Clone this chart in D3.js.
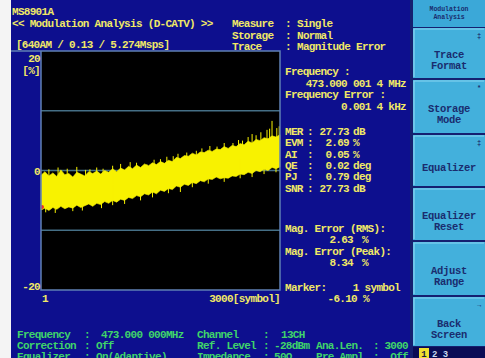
<!DOCTYPE html>
<html><head><meta charset="utf-8">
<script src="https://cdn.jsdelivr.net/npm/d3@7"></script>
<style>
body{margin:0;background:#fff;}
svg text{font-family:"Liberation Mono","DejaVu Sans Mono",monospace;font-weight:bold;}
</style></head><body>
<script>
// magnitude error trace (band edges every 50 symbols, %)
const symbols = [1,50,100,150,200,250,300,350,400,450,500,550,600,650,700,750,800,850,900,950,
  1000,1050,1100,1150,1200,1250,1300,1350,1400,1450,1500,1550,1600,1650,1700,1750,1800,1850,1900,1950,
  2000,2050,2100,2150,2200,2250,2300,2350,2400,2450,2500,2550,2600,2650,2700,2750,2800,2850,2900,2950,3000];
const upper = [-0.8,-0.2,-0.9,-0.4,-1.0,0.1,-0.7,-0.5,-1.1,-0.3,-0.6,-0.9,-0.2,-0.5,-0.1,-0.6,0.0,-0.3,0.3,-0.2,
  0.4,0.1,0.7,0.3,0.9,0.5,1.1,0.8,1.3,1.0,1.5,1.2,1.7,1.5,2.2,2.0,2.5,2.4,2.9,2.6,
  3.1,3.0,3.4,3.2,3.6,3.5,4.0,3.7,4.2,4.0,4.5,4.3,4.9,4.6,5.2,5.0,5.5,5.3,5.8,5.6,6.0];
const lower = [-6.6,-6.3,-6.7,-6.2,-6.5,-6.0,-6.4,-6.1,-6.3,-5.8,-6.2,-5.9,-5.6,-6.0,-5.5,-5.7,-5.2,-5.5,-5.0,-5.3,
  -4.8,-5.0,-4.5,-4.7,-4.2,-4.4,-3.9,-4.1,-3.6,-3.9,-3.3,-3.5,-3.0,-3.2,-2.6,-2.8,-2.3,-2.5,-2.0,-2.2,
  -1.7,-1.9,-1.4,-1.5,-1.1,-1.4,-1.2,-1.3,-0.9,-1.0,-0.6,-0.7,-0.3,-0.5,0.0,-0.2,0.2,0.0,0.5,0.3,0.6];
const spikesUp = [[100,0.2],[215,0.5],[330,0.3],[450,0.6],[560,0.1],[615,0.2],[700,0.5],[780,0.3],[900,0.8],
  [1000,1.1],[1120,1.4],[1200,1.3],[1330,1.0],[1420,1.8],[1500,1.9],[1580,2.3],[1660,2.4],[1720,2.8],[1830,3.0],
  [1950,3.3],[2020,3.7],[2120,4.1],[2210,4.0],[2300,4.6],[2410,4.6],[2480,5.1],[2530,5.0],[2600,5.6],[2650,6.1],
  [2700,5.9],[2760,6.4],[2837,6.8],[2870,7.0],[2900,8.3],[2960,7.1],[2990,7.4]];
const spikesDown = [[60,-7.0],[180,-7.1],[400,-6.8],[520,-6.7],[760,-6.3],[900,-5.8],[1050,-5.6],[1250,-5.0],
  [1400,-4.5],[1600,-3.8],[1750,-3.6],[1900,-2.8],[2100,-2.2],[2300,-1.9],[2500,-1.3],[2650,-1.1],[2800,-0.6],[2950,-0.3]];
const marker = [1, -6.10];
const yLabels = [["20",20],["0",0],["-20",-20]];
const gridVals = [10, 0, -10];

const headerLines = ["MS8901A", "<< Modulation Analysis (D-CATV) >>", " [640AM / 0.13 / 5.274Msps]"];
const settings = [["Measure","Single"],["Storage","Normal"],["Trace","Magnitude Error"]];
const freqInfo = ["Frequency :", "473.000 001 4 MHz", "Frequency Error :", "0.001 4 kHz"];
const results = [["MER","27.73","dB"],["EVM","2.69","%"],["AI","0.05","%"],["QE","0.02","deg"],["PJ","0.79","deg"],["SNR","27.73","dB"]];
const magErr = [["Mag. Error (RMS):","2.63"],["Mag. Error (Peak):","8.34"]];
const markerInfo = ["Marker:", "1 symbol", "-6.10"];
const statusRows = [
  ["Frequency",":","473.000 000MHz","Channel",":","13CH"],
  ["Correction",":","Off","Ref. Level",":","-28dBm","Ana.Len.",":","3000"],
  ["Equalizer",":","On(Adaptive)","Impedance",":","50\u03a9","Pre Ampl",":","Off"]];
const softKeys = [["Trace","Format"],["Storage","Mode"],["Equalizer"],["Equalizer","Reset"],["Adjust","Range"],["Back","Screen"]];
const keyMarks = ["\u2021","*","\u2021","","","\u2192"];

const W = 485, H = 358;
const bg = "#0d0f8e", yel = "#f0e866", grn = "#3fd46a", trc = "#f8f200";
const svg = d3.select("body").append("svg").attr("width", W).attr("height", H);
svg.append("rect").attr("width", W).attr("height", H).attr("fill", bg);
svg.append("rect").attr("width", 11).attr("height", H).attr("fill", "#f4f4f4");

const x = d3.scaleLinear().domain([1, 3000]).range([41, 280]);
const y = d3.scaleLinear().domain([-20, 20]).range([290, 51]);

// plot
svg.append("rect").attr("x", 41).attr("y", 51).attr("width", 239).attr("height", 239).attr("fill", "#000");
svg.selectAll(".grid").data(gridVals).join("line")
  .attr("x1", 41).attr("x2", 280).attr("y1", d => y(d)).attr("y2", d => y(d))
  .attr("stroke", "#456f86").attr("stroke-width", 1.3);

const idx = d3.range(symbols.length);
svg.append("path").datum(idx)
  .attr("d", d3.area().x(i => x(symbols[i])).y0(i => y(lower[i])).y1(i => y(upper[i])))
  .attr("fill", trc).attr("stroke", trc).attr("stroke-width", 0.6);

const near = s => d3.bisectCenter(symbols, s);
svg.selectAll(".sp").data(spikesUp.concat(spikesDown)).join("line")
  .attr("x1", d => x(d[0])).attr("x2", d => x(d[0]))
  .attr("y1", d => y(d[1]))
  .attr("y2", d => { const i = near(d[0]); return y((upper[i] + lower[i]) / 2); })
  .attr("stroke", trc).attr("stroke-width", 1);

svg.append("circle").attr("cx", x(marker[0]) + 1).attr("cy", y(marker[1])).attr("r", 2).attr("fill", "#e8302a");

// frame
svg.append("path").attr("d", "M11,51H280V290H41V51")
  .attr("fill", "none").attr("stroke", "#5f80b4").attr("stroke-width", 1.5);

const txt = (t, px, py, col, anchor) => svg.append("text").attr("x", px).attr("y", py)
  .attr("fill", col || yel).attr("font-size", 11).attr("letter-spacing", -0.7)
  .attr("text-anchor", anchor || "start")
  .attr("xml:space", "preserve").text(t);

const dyLab = {"20": 11, "0": 4, "-20": 0};
yLabels.forEach(d => txt(d[0], 40, y(d[1]) + dyLab[d[0]], yel, "end"));
txt("[%]", 40, 74, yel, "end");
txt("1", 42, 302);
txt("3000[symbol]", 280, 302, yel, "end");

// header
txt(headerLines[0], 12, 15);
txt(headerLines[1], 12, 27);
txt(headerLines[2], 10, 48);
settings.forEach((d, i) => {
  const py = 27 + i * 11.5;
  txt(d[0], 232, py); txt(":", 285, py); txt(d[1], 297, py);
});

// right info
txt(freqInfo[0], 285, 75); txt(freqInfo[1], 406, 87, yel, "end");
txt(freqInfo[2], 285, 98); txt(freqInfo[3], 406, 110, yel, "end");
results.forEach((d, i) => {
  const py = 135 + i * 11.3;
  txt(d[0], 285, py); txt(":", 307, py); txt(d[1], 349, py, yel, "end"); txt(d[2], 353, py);
});
magErr.forEach((d, i) => {
  const py = 232 + i * 22.5;
  txt(d[0], 285, py); txt(d[1], 353, py + 11, yel, "end"); txt("%", 362, py + 11);
});
txt(markerInfo[0], 285, 291); txt(markerInfo[1], 400, 291, yel, "end");
txt(markerInfo[2], 357, 302, yel, "end"); txt("%", 363, 302);

// status rows (last one is cut by the screen edge, as on the instrument photo)
const colX = [17, 84, 96, 197, 263, 274, 316, 373, 408];
statusRows.forEach((r, i) => {
  const py = 338 + i * 11;
  r.forEach((t, j) => {
    let px = colX[j];
    if (i === 0 && j === 2) px = 101;
    if (i === 0 && j === 5) px = 281;
    txt(t, px, py, grn, j === 8 ? "end" : "start");
  });
});

// soft keys
const panelX = 413;
svg.append("rect").attr("x", 410).attr("y", 0).attr("width", 75).attr("height", H).attr("fill", "#152070");
svg.append("rect").attr("x", panelX).attr("y", 0).attr("width", 72).attr("height", 27).attr("fill", "#3ba8d8");
["Modulation", "Analysis"].forEach((t, i) => svg.append("text").attr("x", 449).attr("y", 11 + i * 8)
  .attr("text-anchor", "middle").attr("font-size", 6.5).attr("fill", "#1a2c6e").text(t));
const keyY = [[28, 78], [80, 133], [135, 186], [188, 240], [242, 295], [297, 346]];
keyY.forEach((k, i) => {
  svg.append("rect").attr("x", panelX).attr("y", k[0]).attr("width", 72).attr("height", k[1] - k[0]).attr("fill", "#43b0dc");
  svg.append("path").attr("d", `M${panelX + 1},${k[1] - 1}V${k[0] + 1}H${W - 1}`)
    .attr("fill", "none").attr("stroke", "#8ad6f2").attr("stroke-width", 1.2);
  const lines = softKeys[i];
  const base = (k[0] + k[1]) / 2 + 10 - (lines.length - 1) * 5;
  lines.forEach((t, j) => svg.append("text").attr("x", 449).attr("y", base + j * 11)
    .attr("text-anchor", "middle").attr("font-size", 10.5).attr("letter-spacing", -0.3)
    .attr("fill", "#1a2c6e").text(t));
  if (keyMarks[i]) svg.append("text").attr("x", 479).attr("y", k[0] + 10)
    .attr("text-anchor", "middle").attr("font-size", 7).attr("fill", "#1a2c6e").text(keyMarks[i]);
});
svg.append("rect").attr("x", panelX).attr("y", 347).attr("width", 72).attr("height", 11).attr("fill", "#0a0c55");
svg.append("rect").attr("x", 419).attr("y", 348).attr("width", 10).attr("height", 10).attr("fill", "#f0e030");
svg.append("text").attr("x", 424).attr("y", 357).attr("text-anchor", "middle").attr("font-size", 9).attr("fill", "#1a1a40").text("1");
svg.append("text").attr("x", 432).attr("y", 357).attr("font-size", 9).attr("fill", "#c8d8f0").text("2 3");
</script>
</body></html>
